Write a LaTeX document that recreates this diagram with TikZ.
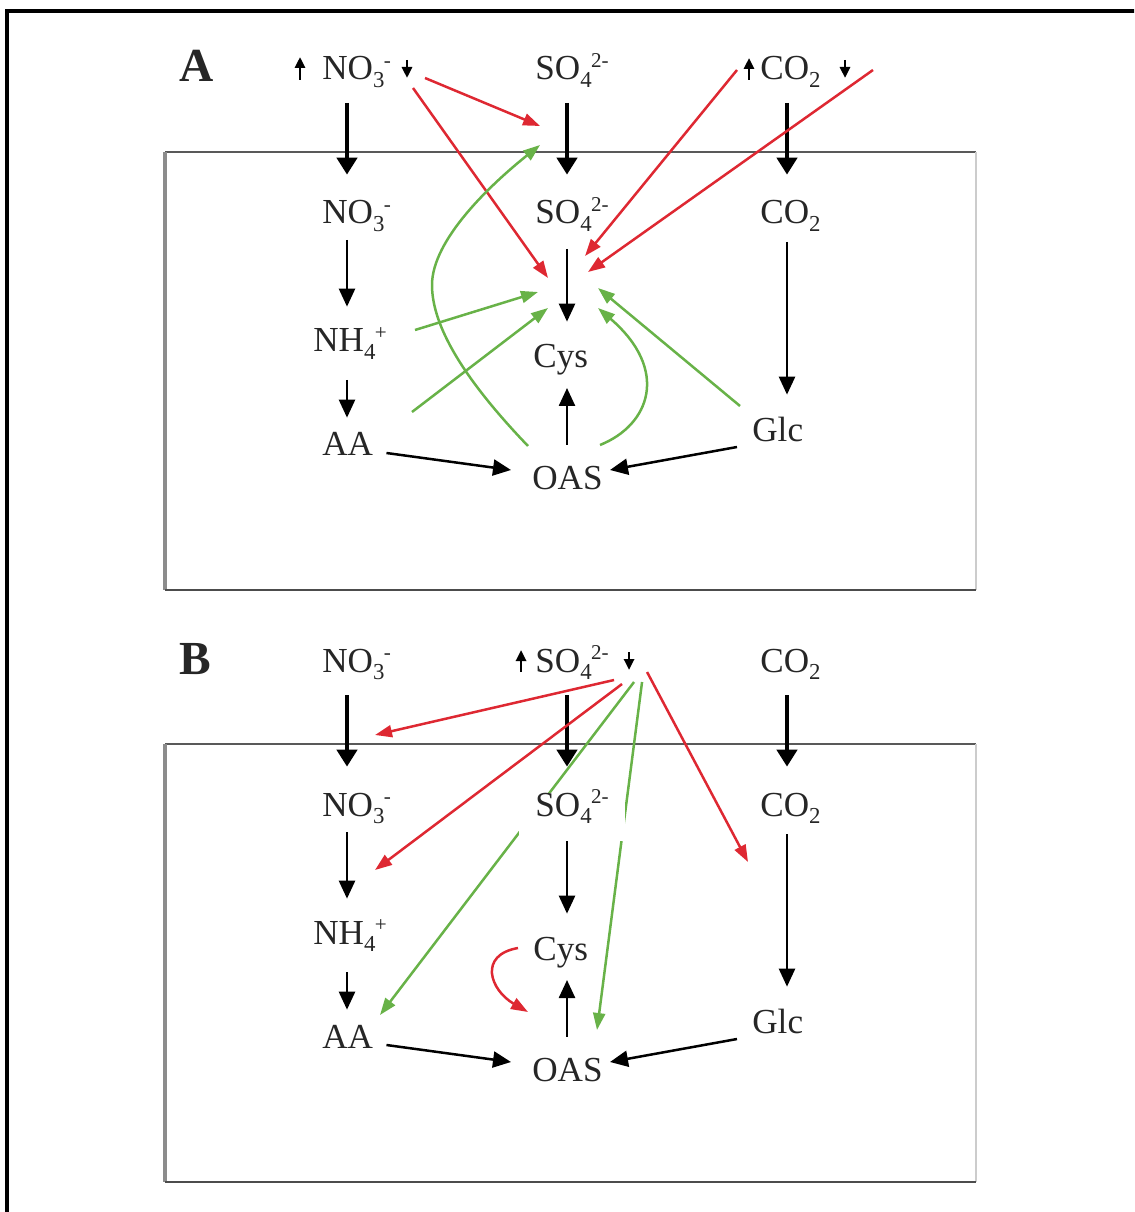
\documentclass[tikz,border=0pt]{standalone}
\usepackage{fontspec}
\setmainfont{Liberation Serif}
\usetikzlibrary{arrows.meta,calc}
\pgfdeclarelayer{bg}
\pgfdeclarelayer{mid}
\pgfsetlayers{bg,mid,main}
\definecolor{myred}{RGB}{222,40,50}
\definecolor{mygreen}{RGB}{104,178,72}
\newcommand\chem[3]{#1\raisebox{-0.22em}{\fontsize{13}{13}\selectfont #2}\kern-0.02em\raisebox{0.36em}{\fontsize{12}{12}\selectfont #3}}
\newcommand\chemsub[2]{#1\raisebox{-0.22em}{\fontsize{13}{13}\selectfont #2}}
\newcommand\panelnodes[4]{%
  \node[panel] (lt#1) at (179,82+#2) {#3};
  \node[lbl] (no3t#1) at (322,80+#2) {\chem{NO}{3}{-}};
  \node[lblc] (so4t#1) at (572,80+#2) {\chem{SO}{4}{2-}};
  \node[lbl] (co2t#1) at (760,80+#2) {\chemsub{CO}{2}};
  \node[lbl] (no3i#1) at (322,224+#2) {\chem{NO}{3}{-}};
  \node[lblc,#4] (so4i#1) at (572,224+#2) {\chem{SO}{4}{2-}};
  \node[lbl] (co2i#1) at (760,224+#2) {\chemsub{CO}{2}};
  \node[lbl] (nh4#1) at (313,352+#2) {\chem{NH}{4}{+}};
  \node[lbl] (cys#1) at (533,368+#2) {Cys};
  \node[lbl] (aa#1) at (322,456+#2) {AA};
  \node[lbl] (oas#1) at (532,489+#2) {OAS};
  \node[lbl] (glc#1) at (752,441+#2) {Glc};
  \begin{pgfonlayer}{bg}
    \draw[draw=black!65,line width=0.04cm] (165,152+#2) -- (976,152+#2);
    \draw[draw=black!45,line width=0.07cm] (165,152+#2) -- (165,590+#2);
    \draw[draw=black!20,line width=0.04cm] (976,152+#2) -- (976,590+#2);
    \draw[draw=black!70,line width=0.05cm] (165,590+#2) -- (976,590+#2);
    \draw[upt,shorten <=0.46cm,shorten >=0.52cm] (no3t#1.base -| cL) -- (no3i#1.north -| cL);
    \draw[upt,shorten <=0.46cm,shorten >=0.52cm] (so4t#1.base -| cM) -- (so4i#1.north -| cM);
    \draw[upt,shorten <=0.46cm,shorten >=0.52cm] (co2t#1.base -| cR) -- (co2i#1.north -| cR);
    \draw[blk,shorten <=0.32cm,shorten >=0.44cm] (no3i#1.base -| cL) -- (nh4#1.north -| cL);
    \draw[blk,shorten <=0.5cm,shorten >=0.46cm] (so4i#1.base -| cM) -- (cys#1.north -| cM);
    \draw[blk,shorten <=0.36cm,shorten >=0.46cm] (co2i#1.base -| cR) -- (glc#1.north -| cR);
    \draw[blk,shorten <=0.56cm,shorten >=0.3cm] (nh4#1.base -| cL) -- (aa#1.north -| cL);
    \draw[blk,shorten <=0.42cm,shorten >=0.4cm] (oas#1.north -| cM) -- (cys#1.base -| cM);
    \draw[blk] ($(aa#1.base east)+(13,-3)$) -- ($(oas#1.base west)+(-21,-19)$);
    \draw[blk] ($(glc#1.base west)+(-15,6)$) -- ($(oas#1.base east)+(7,-19)$);
  \end{pgfonlayer}
}
\begin{document}
\begin{tikzpicture}[x=0.02cm,y=-0.02cm,
  lbl/.style={inner sep=0pt,anchor=base west,text height=0.46cm,text depth=0.12cm,text=black!85,font=\fontsize{20}{24}\selectfont},
  lblc/.style={lbl,anchor=base},
  panel/.style={inner sep=0pt,anchor=base west,text=black!85,font=\fontsize{27}{30}\selectfont\bfseries},
  upt/.style={line width=0.085cm,-{Triangle[length=0.34cm,width=0.4cm]}},
  blk/.style={line width=0.05cm,-{Triangle[length=0.36cm,width=0.32cm]}},
  redarr/.style={draw=myred,line width=0.05cm,-{Triangle[length=0.34cm,width=0.24cm]}},
  grnarr/.style={draw=mygreen,line width=0.05cm,-{Triangle[length=0.34cm,width=0.24cm]}},
  tiny/.style={line width=0.055cm,-{Triangle[length=0.22cm,width=0.2cm]}}]
\useasboundingbox (0,0) rectangle (1134,1212);
\begin{scope}
  \clip (0,0) rectangle (1134,1212);
  \draw[line width=0.07cm] (7,11) rectangle (1160,1240);
\end{scope}
\coordinate (cL) at (347,0);
\coordinate (cM) at (567,0);
\coordinate (cR) at (787,0);
% Panel A
\panelnodes{A}{0}{A}{}
\draw[tiny] ($(no3tA.base west)+(-22,0)$) -- ++(0,-23);
\draw[tiny] ($(no3tA.base west)+(85,-20)$) -- ++(0,18);
\draw[tiny] ($(co2tA.base west)+(-11,0)$) -- ++(0,-22);
\draw[tiny] ($(co2tA.base west)+(85,-20)$) -- ++(0,18);
\begin{pgfonlayer}{mid}
  \draw[redarr] ($(no3tA.base west)+(103,-2)$) -- ($(so4iA.base west)+(5,-98)$);
  \draw[redarr] ($(no3tA.base west)+(91,8)$) -- ($(cysA.base west)+(15,-90)$);
  \draw[redarr] ($(co2tA.base west)+(-23,-10)$) -- ($(cysA.base west)+(52,-112)$);
  \draw[redarr] ($(co2tA.base west)+(113,-10)$) -- ($(cysA.base west)+(55,-96)$);
  \draw[grnarr] ($(nh4A.base west)+(102,-22)$) -- ($(cysA.base west)+(5,-76)$);
  \draw[grnarr] ($(aaA.base west)+(90,-44)$) -- ($(cysA.base west)+(15,-60)$);
  \draw[grnarr] ($(oasA.base west)+(-4,-43)$) .. controls (455,370) and (432,320) .. (432,285) .. controls (432,240) and (490,185) .. ($(so4iA.base west)+(5,-79)$);
  \draw[grnarr] ($(oasA.base west)+(68,-44)$) .. controls (650,425) and (670,370) .. ($(cysA.base west)+(65,-60)$);
  \draw[grnarr] ($(glcA.base west)+(-12,-35)$) -- ($(cysA.base west)+(65,-80)$);
\end{pgfonlayer}
% Panel B
\panelnodes{B}{592}{B}{fill=white,inner xsep=0.32cm,text depth=0.5cm}
\draw[tiny] ($(so4tB.base west)+(-14,0)$) -- ++(0,-22);
\draw[tiny] ($(so4tB.base west)+(94,-20)$) -- ++(0,18);
\begin{pgfonlayer}{mid}
  \draw[redarr] ($(so4tB.base west)+(79,8)$) -- ($(no3iB.base west)+(53,-81)$);
  \draw[redarr] ($(so4tB.base west)+(87,12)$) -- ($(nh4B.base west)+(62,-74)$);
  \draw[redarr] ($(so4tB.base west)+(112,0)$) -- ($(co2iB.base west)+(-12,46)$);
  \draw[redarr] ($(cysB.base west)+(-15,-12)$) .. controls (478,955) and (490,990) .. ($(oasB.base west)+(-4,-69)$);
  \draw[grnarr] ($(so4tB.base west)+(99,10)$) -- ($(aaB.base west)+(58,-33)$);
  \draw[grnarr] ($(so4tB.base west)+(107,10)$) -- ($(oasB.base west)+(65,-51)$);
\end{pgfonlayer}
\end{tikzpicture}
\end{document}
